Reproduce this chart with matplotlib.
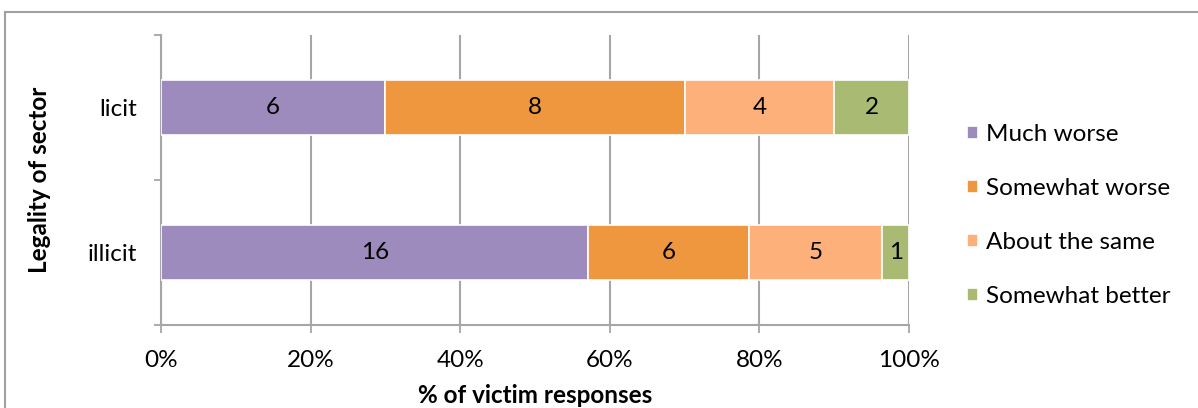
import numpy as np
import matplotlib.pyplot as plt
from matplotlib.patches import Rectangle

plt.rcParams['font.family'] = ['Lato', 'DejaVu Sans']

sectors = ['illicit', 'licit']
levels = ['Much worse', 'Somewhat worse', 'About the same', 'Somewhat better']
counts = {
    'Much worse': [16, 6],
    'Somewhat worse': [6, 8],
    'About the same': [5, 4],
    'Somewhat better': [1, 2],
}
colors = ['#9e8bbd', '#ee973f', '#fdb07a', '#a9ba73']

fs = 17.5
fig = plt.figure(figsize=(11.98, 4.08), dpi=100)
ax = fig.add_axes([0.1344, 0.2034, 0.6244, 0.7108])

totals = np.sum([counts[k] for k in levels], axis=0)
ypos = np.arange(len(sectors))
left = np.zeros(len(sectors))
for lvl, col in zip(levels, colors):
    vals = np.array(counts[lvl])
    share = vals / totals
    ax.barh(ypos, share, left=left, height=0.386, color=col,
            edgecolor='white', linewidth=1.2, label=lvl, zorder=3)
    for y, l, s, v in zip(ypos, left, share, vals):
        ax.text(l + s / 2, y, str(v), ha='center', va='center',
                fontsize=fs, color='black', zorder=4)
    left += share

ax.set_xlim(0, 1)
ax.set_ylim(-0.5, 1.5)
ax.set_xticks(np.linspace(0, 1, 6))
ax.set_xticklabels(['0%', '20%', '40%', '60%', '80%', '100%'], fontsize=fs)
ax.set_yticks(ypos)
ax.set_yticklabels(sectors, fontsize=fs)
ax.set_yticks([-0.5, 0.5, 1.5], minor=True)
ax.tick_params(axis='y', which='major', length=0, pad=17)
ax.tick_params(axis='y', which='minor', length=5, width=1.3, color='#a6a6a6')
ax.tick_params(axis='x', length=6, width=1.3, color='#a6a6a6', pad=12)
ax.xaxis.grid(True, color='#a6a6a6', linewidth=1.5, zorder=0)
for side in ['top', 'right']:
    ax.spines[side].set_visible(False)
for side in ['left', 'bottom']:
    ax.spines[side].set_color('#a6a6a6')
    ax.spines[side].set_linewidth(1.5)

ax.set_xlabel('% of victim responses', fontsize=fs, fontweight='bold', va='top')
ax.xaxis.set_label_coords(0.5, -0.205)
ax.set_ylabel('Legality of sector', fontsize=fs, fontweight='bold')
ax.yaxis.set_label_coords(-0.147, 0.5)

handles, labels = ax.get_legend_handles_labels()
leg = fig.legend(handles, labels, loc='upper left',
                 bbox_to_anchor=(967 / 1198, 1 - 124 / 408),
                 frameon=False, fontsize=fs, borderpad=0, borderaxespad=0,
                 handlelength=0.45, handleheight=0.45,
                 handletextpad=0.33, labelspacing=1.36)

# outer chart frame
fig.patches.append(Rectangle((5 / 1198, -0.1), 1.2, 1.1 - 12 / 408,
                             transform=fig.transFigure, fill=False,
                             edgecolor='#a0a0a0', linewidth=1.5))

fig.savefig('out.png', dpi=100)
